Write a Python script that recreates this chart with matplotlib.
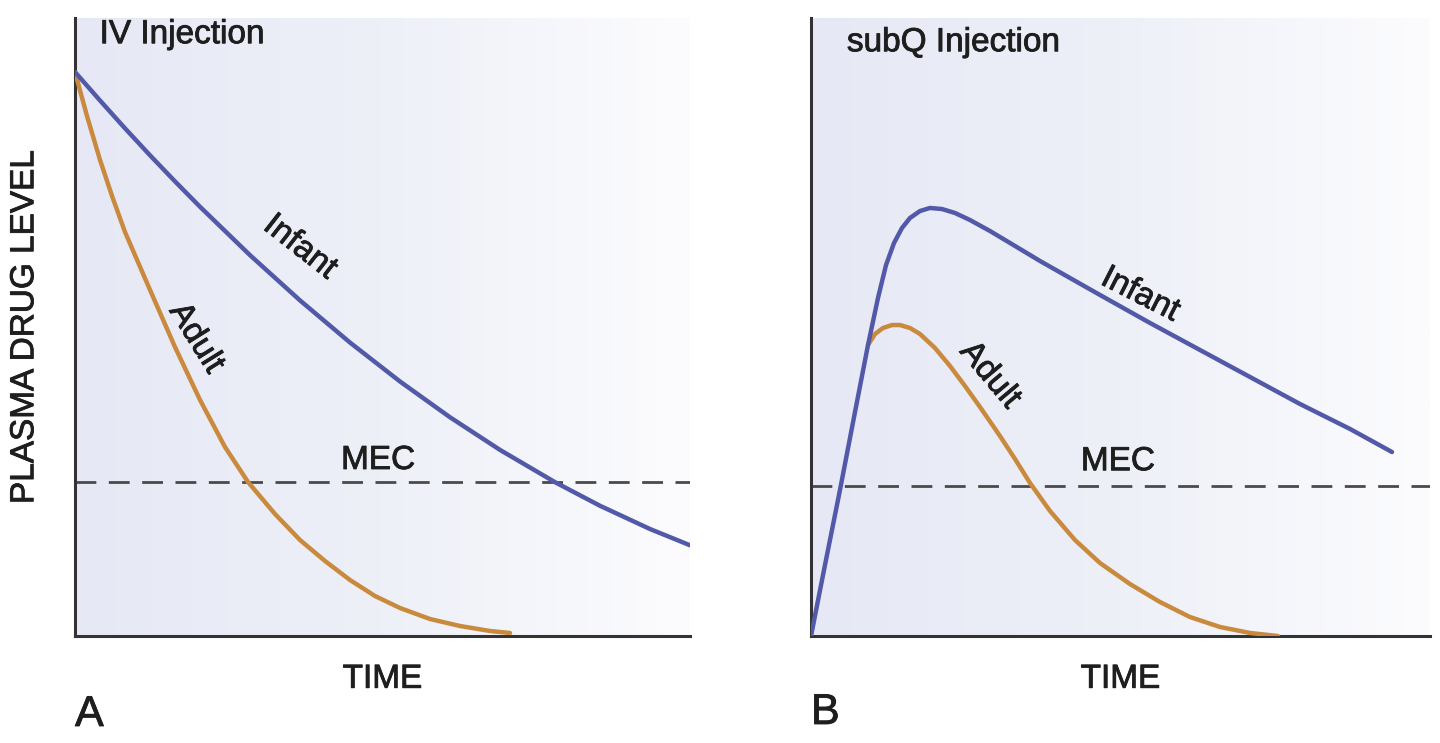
import numpy as np
import matplotlib.pyplot as plt
import matplotlib.patheffects as pe
from matplotlib.colors import LinearSegmentedColormap

plt.rcParams['font.family'] = ['Liberation Sans', 'DejaVu Sans']

# ---------- Panel A: IV injection ----------
iv_infant_t = [0, 4.07, 8.13, 12.2, 16.26, 20.33, 28.46, 36.59, 44.72, 52.85,
               60.98, 69.11, 78.05, 85.37, 93.5, 100]
iv_infant_c = [91.26, 86.65, 82.15, 77.78, 73.56, 69.45, 61.62, 54.30, 47.48, 41.18,
               35.39, 30.11, 24.89, 21.07, 17.31, 14.68]
iv_adult_t = [0, 1.95, 4.07, 6.02, 8.13, 12.2, 16.26, 20.33, 24.39, 28.13,
              32.52, 36.59, 40.65, 44.72, 48.78, 52.85, 57.72, 62.6, 67.48, 70.73]
iv_adult_c = [91.26, 84.14, 77.02, 71.2, 65.37, 55.99, 46.76, 38.19, 30.58, 24.92,
              19.74, 15.53, 12.14, 9.06, 6.47, 4.53, 2.75, 1.62, 0.81, 0.49]
iv_mec = 24.9

# ---------- Panel B: subQ injection ----------
sq_infant_t = [0, 2.26, 4.68, 7.11, 9.21, 10.82, 12.12, 13.41, 14.7, 15.99, 17.61,
               19.22, 21.16, 23.26, 25.69, 28.92, 32.96, 37.0, 41.84, 46.69, 54.77,
               62.84, 70.92, 79.0, 87.08, 93.86]
sq_infant_c = [0, 11.49, 23.62, 36.25, 47.09, 54.69, 60.03, 63.59, 66.02, 67.64, 68.77,
               69.26, 69.09, 68.45, 67.31, 65.53, 63.11, 60.68, 57.93, 55.18, 50.65,
               46.28, 41.91, 37.54, 33.5, 29.77]
sq_adult_t = [9.21, 10.34, 11.63, 13.09, 14.38, 15.99, 17.61, 20.03, 22.46, 24.88,
              27.3, 30.53, 32.96, 35.38, 38.61, 42.65, 46.69, 51.53, 56.38, 61.23,
              66.07, 70.92, 75.44]
sq_adult_c = [47.09, 48.87, 49.84, 50.32, 50.32, 49.84, 48.87, 46.6, 43.69, 40.45,
              37.06, 32.36, 28.64, 24.76, 20.23, 15.53, 11.81, 8.41, 5.5, 3.07,
              1.46, 0.49, 0]
sq_mec = 24.3

blue = '#5159a8'
orange = '#c98a3e'
ink = '#1e1e1e'
bold_ink = [pe.withStroke(linewidth=0.6, foreground=ink)]

fig = plt.figure(figsize=(14.4, 7.43), dpi=100)
axA = fig.add_axes([75 / 1440, 1 - 636 / 743, 615 / 1440, 618 / 743])
axB = fig.add_axes([811 / 1440, 1 - 636 / 743, 619 / 1440, 618 / 743])

bg = LinearSegmentedColormap.from_list('bg', ['#e6e8f5', '#eef0f8', '#fcfcfe'])
grad = np.linspace(0, 1, 256).reshape(1, -1)

for ax in (axA, axB):
    ax.imshow(grad, cmap=bg, aspect='auto', extent=[0, 1, 0, 1],
              transform=ax.transAxes, zorder=0)
    ax.set_xlim(0, 100)
    ax.set_ylim(0, 100)
    ax.set_xticks([])
    ax.set_yticks([])
    for s in ('top', 'right'):
        ax.spines[s].set_visible(False)
    for s in ('left', 'bottom'):
        ax.spines[s].set_linewidth(2.2)
        ax.spines[s].set_color('#333333')
    ax.set_xlabel('TIME', fontsize=24, color=ink, labelpad=20, path_effects=bold_ink)

axA.set_ylabel('PLASMA DRUG LEVEL', fontsize=24, color=ink, labelpad=25,
               path_effects=bold_ink)


def label(ax, x, y, s, rot=0, ha='center'):
    ax.text(x, y, s, fontsize=24, color=ink, rotation=rot, ha=ha, va='center',
            rotation_mode='anchor', path_effects=bold_ink)


# ---------- Panel A ----------
axA.plot(iv_adult_t, iv_adult_c, color=orange, lw=3.2, solid_capstyle='round', zorder=3)
axA.plot(iv_infant_t, iv_infant_c, color=blue, lw=3.2, solid_capstyle='round', zorder=4)
axA.axhline(iv_mec, color='#4a4a4a', lw=2, dashes=(7.5, 4.5), zorder=2)
label(axA, 4, 97.3, 'IV Injection', ha='left')
label(axA, 49.3, 28.4, 'MEC')
label(axA, 36.6, 62.9, 'Infant', rot=-38)
label(axA, 19.7, 48.2, 'Adult', rot=-58)

# ---------- Panel B ----------
axB.plot(sq_adult_t, sq_adult_c, color=orange, lw=3.2, solid_capstyle='round', zorder=3)
axB.plot(sq_infant_t, sq_infant_c, color=blue, lw=3.2, solid_capstyle='round', zorder=4)
axB.axhline(sq_mec, color='#4a4a4a', lw=2, dashes=(7.5, 4.5), zorder=2)
label(axB, 5.8, 96.0, 'subQ Injection', ha='left')
label(axB, 49.6, 28.2, 'MEC')
label(axB, 53.2, 55.2, 'Infant', rot=-27)
label(axB, 28.9, 42.2, 'Adult', rot=-50)

fig.text(75 / 1440, 1 - 715 / 743, 'A', fontsize=31, color=ink, ha='left', va='center',
         path_effects=bold_ink)
fig.text(811 / 1440, 1 - 713 / 743, 'B', fontsize=31, color=ink, ha='left', va='center',
         path_effects=bold_ink)

fig.savefig('out.png', dpi=100)
